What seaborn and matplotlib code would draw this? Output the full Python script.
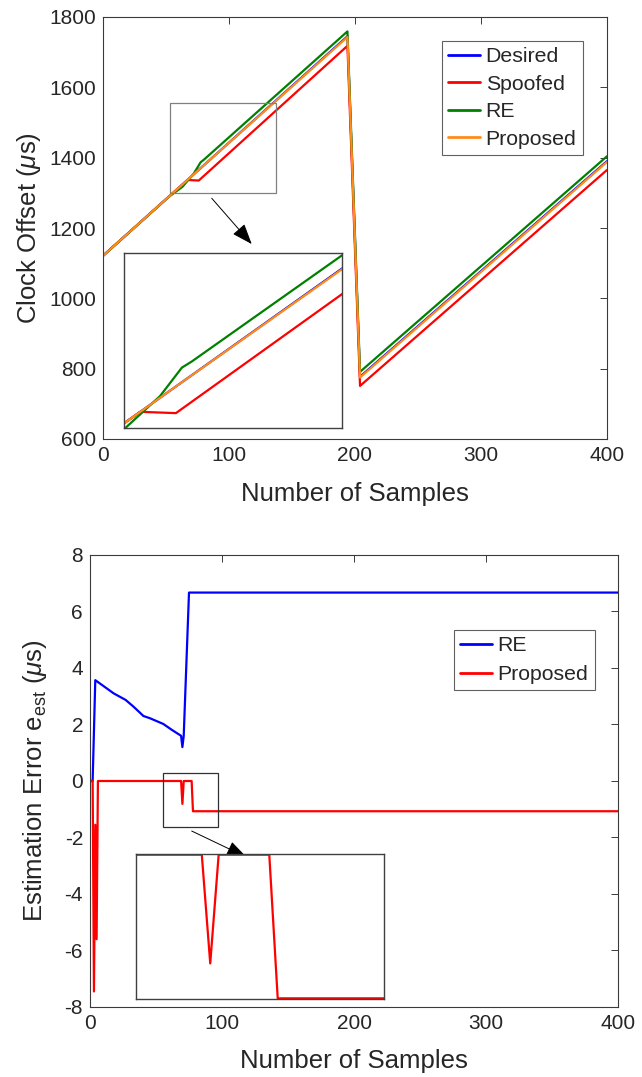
import matplotlib
matplotlib.use("Agg")
import matplotlib.pyplot as plt
import pandas as pd
import seaborn as sns
from matplotlib.patches import Rectangle

# ---------------- data ----------------
# Clock offset trajectories (sample index, microseconds), piecewise-linear vertices
desired_x = [0, 194, 204, 400]
desired_y = [1121, 1745, 777, 1390]
spoofed_x = [0, 67, 76, 194, 204, 400]
spoofed_y = [1121, 1336.5, 1335, 1718, 751, 1365]
re_x = [0, 52, 63, 72, 77.5, 80, 194, 204, 400]
re_y = [1121, 1288, 1317, 1354.5, 1387, 1394, 1759, 791, 1404]
proposed_x = [0, 74, 194, 204, 400]
proposed_y = [1121, 1359, 1743, 775, 1388]

# Estimation error of the two estimators (microseconds)
err_re_x = [0, 2, 4, 18, 27, 33, 40.5, 45.5, 55.5, 62, 69, 70, 71, 75, 400]
err_re_y = [0, 0, 3.57, 3.1, 2.87, 2.63, 2.3, 2.22, 2.02, 1.81, 1.6, 1.2, 1.6, 6.67, 6.67]
err_prop_x = [0, 2, 3, 4, 5, 6, 69, 70, 71, 77, 78, 400]
err_prop_y = [0, 0, -7.45, -1.55, -5.6, 0, 0, -0.81, 0, 0, -1.07, -1.07]

offset_names = ["Desired", "Spoofed", "RE", "Proposed"]
offset_colors = ["#0000ff", "#ff0000", "#008000", "#ff8c1a"]
error_names = ["RE", "Proposed"]
error_colors = ["#0000ff", "#ff0000"]

x_ticks = [0, 100, 200, 300, 400]
offset_ticks = [600, 800, 1000, 1200, 1400, 1600, 1800]
error_ticks = [-8, -6, -4, -2, 0, 2, 4, 6, 8]

# ---------------- style ----------------
sns.set_theme(style="white")
AX_COLOR = "#3a3a3a"
TXT_COLOR = "#262626"
plt.rcParams["font.family"] = ["Liberation Sans", "DejaVu Sans"]
plt.rcParams.update({
    "mathtext.fontset": "custom",
    "mathtext.rm": "Liberation Sans",
    "mathtext.it": "Liberation Sans:italic",
    "mathtext.bf": "Liberation Sans:bold",
    "axes.unicode_minus": False,
    "axes.edgecolor": AX_COLOR,
    "axes.linewidth": 0.8,
    "text.color": TXT_COLOR,
})

offset_df = pd.concat([
    pd.DataFrame({"x": xs, "y": ys, "series": name})
    for name, xs, ys in zip(offset_names,
                            [desired_x, spoofed_x, re_x, proposed_x],
                            [desired_y, spoofed_y, re_y, proposed_y])
], ignore_index=True)
error_df = pd.concat([
    pd.DataFrame({"x": xs, "y": ys, "series": name})
    for name, xs, ys in zip(error_names,
                            [err_re_x, err_prop_x],
                            [err_re_y, err_prop_y])
], ignore_index=True)

W, H = 642, 1077
fig = plt.figure(figsize=(W / 100, H / 100), dpi=100)
fig.patch.set_facecolor("white")


def draw_lines(ax, df, names, colors, lw, legend):
    for name, col in zip(names, colors):
        sub = df[df["series"] == name]
        sns.lineplot(data=sub, x="x", y="y", ax=ax, color=col, linewidth=lw,
                     estimator=None, sort=False,
                     label=name if legend else None, legend=False)


def style_main(ax):
    ax.tick_params(direction="in", top=True, right=True, length=5, width=0.7,
                   color=AX_COLOR, labelcolor=TXT_COLOR, labelsize=15, pad=5)
    for s in ax.spines.values():
        s.set_visible(True)
        s.set_color(AX_COLOR)
        s.set_linewidth(0.8)


def style_inset(ax):
    ax.set_xticks([])
    ax.set_yticks([])
    ax.set_xlabel("")
    ax.set_ylabel("")
    ax.set_facecolor("white")
    for s in ax.spines.values():
        s.set_visible(True)
        s.set_color("#404040")
        s.set_linewidth(1.0)


def boxed_legend(ax, anchor, spacing):
    handles, labels = ax.get_legend_handles_labels()
    leg = ax.legend(handles, labels, loc="upper right", bbox_to_anchor=anchor,
                    borderaxespad=0, frameon=True, fancybox=False, fontsize=15.3,
                    handlelength=1.5, handletextpad=0.25, labelspacing=spacing,
                    borderpad=0.3)
    leg.get_frame().set_edgecolor(AX_COLOR)
    leg.get_frame().set_linewidth(0.8)
    for line in leg.get_lines():
        line.set_linewidth(2.0)
    return leg


ARROW = dict(arrowstyle="-|>,head_length=0.8,head_width=0.3",
             color="black", lw=0.7, mutation_scale=16, shrinkA=0, shrinkB=0)

# ---------------- clock offset panel ----------------
ax1 = fig.add_axes([103 / W, 1 - 439 / H, 504 / W, 422 / H])
draw_lines(ax1, offset_df, offset_names, offset_colors, 1.6, True)
ax1.set_xlim(0, 400)
ax1.set_ylim(600, 1800)
ax1.set_xticks(x_ticks)
ax1.set_yticks(offset_ticks)
style_main(ax1)
ax1.set_xlabel("Number of Samples", fontsize=18.5, color=TXT_COLOR)
ax1.set_ylabel(r"Clock Offset ($\mu$s)", fontsize=18.5, color=TXT_COLOR)
ax1.xaxis.set_label_coords(0.5, -0.102)
ax1.yaxis.set_label_coords(-0.12, 0.5)
boxed_legend(ax1, (0.952, 0.943), 0.4)

ax1.add_patch(Rectangle((53.2, 1300), 84.1, 256, fill=False, ec="#808080", lw=0.9, zorder=5))
ax1.annotate("", xy=(0.3921, 0.7734), xytext=(0.3298, 0.8159),
             xycoords="figure fraction", textcoords="figure fraction", arrowprops=ARROW)

ins1 = fig.add_axes([124 / W, 1 - 428 / H, 218 / W, 175 / H])
draw_lines(ins1, offset_df, offset_names, offset_colors, 1.6, False)
ins1.set_xlim(62.9, 117.9)
ins1.set_ylim(1318, 1518)
style_inset(ins1)

# ---------------- estimation error panel ----------------
ax2 = fig.add_axes([90 / W, 1 - 1007 / H, 528 / W, 452 / H])
draw_lines(ax2, error_df, error_names, error_colors, 1.6, True)
ax2.set_xlim(0, 400)
ax2.set_ylim(-8, 8)
ax2.set_xticks(x_ticks)
ax2.set_yticks(error_ticks)
style_main(ax2)
ax2.set_xlabel("Number of Samples", fontsize=18.5, color=TXT_COLOR)
ax2.set_ylabel(r"Estimation Error e$_{\mathrm{est}}$ ($\mu$s)", fontsize=18.5, color=TXT_COLOR)
ax2.xaxis.set_label_coords(0.5, -0.094)
ax2.yaxis.set_label_coords(-0.078, 0.5)
boxed_legend(ax2, (0.956, 0.834), 0.45)

ax2.add_patch(Rectangle((55, -1.64), 42, 1.91, fill=False, ec="#303030", lw=0.9, zorder=5))
ax2.annotate("", xy=(0.3843, 0.2040), xytext=(0.2986, 0.2284),
             xycoords="figure fraction", textcoords="figure fraction", arrowprops=ARROW)

ins2 = fig.add_axes([136 / W, 1 - 999 / H, 248 / W, 145 / H])
draw_lines(ins2, error_df, error_names, error_colors, 1.6, False)
ins2.set_xlim(61.2, 90.6)
ins2.set_ylim(-1.075, 0.005)
style_inset(ins2)

fig.savefig("out.png", dpi=100, facecolor="white")
